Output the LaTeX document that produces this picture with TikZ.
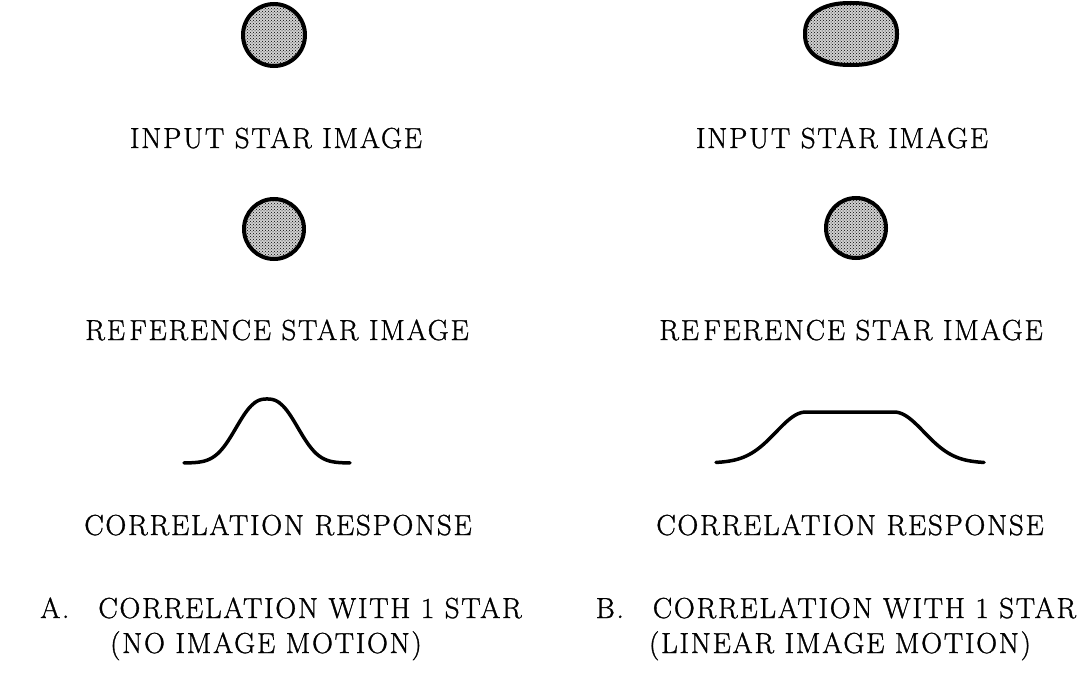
\documentclass[tikz,border=0pt]{standalone}
\usepackage{fontspec}
\setmainfont{Latin Modern Roman}[LetterSpace=6,FakeBold=1.1]
\usetikzlibrary{shapes.geometric,patterns}
\begin{document}
\begin{tikzpicture}[x=1pt,y=-1pt,
  lbl/.style={anchor=base,inner sep=0pt,font=\fontsize{29}{33}\selectfont},
  starimg/.style={draw,line width=4pt,preaction={fill=black!18},pattern=crosshatch dots,pattern color=black,inner sep=0pt},
  curve/.style={line width=3.5pt,line cap=round}]
\useasboundingbox (0,0) rectangle (1091,682);
% column A
\node[starimg,circle,minimum size=62pt] (sA) at (274,35) {};
\node[lbl] (inA) at (276,148) {INPUT STAR IMAGE};
\node[starimg,circle,minimum size=60pt] (rA) at (274,229) {};
\node[lbl] (refA) at (277,340) {RE\hspace{0.15em}FERENCE STAR IMAGE};
\draw[curve] plot[domain=184:350,samples=90,smooth] (\x,{463-64*exp(-(((\x-267)^2+0.01)/(38*38))^1.25)});
\node[lbl] (crA) at (278,535) {CORRELATION RESPONSE};
\node[lbl] (tA1) at (281,618) {A.\hspace{1em}CORRELATION WITH 1 STAR};
\node[lbl] (tA2) at (266,653) {(NO IMAGE MOTION)};
% column B
\path[starimg] plot[domain=0:360,samples=121,smooth cycle]
  ({851+46*sign(cos(\x))*(abs(cos(\x))+0.0001)^0.87},{34+31*sign(sin(\x))*(abs(sin(\x))+0.0001)^0.87});
\node[inner sep=0pt,minimum width=92pt,minimum height=62pt] (sB) at (851,34) {};
\node[lbl] (inB) at (842,148) {INPUT STAR IMAGE};
\node[starimg,circle,minimum size=60pt] (rB) at (856,228) {};
\node[lbl] (refB) at (851,340) {RE\hspace{0.15em}FERENCE STAR IMAGE};
\draw[curve] plot[domain=716:806,samples=50,smooth] (\x,{463-51*exp(-((\x-806)^2)/(2*30*30))})
  -- plot[domain=894:984,samples=50,smooth] (\x,{463-51*exp(-((\x-894)^2)/(2*30*30))});
\node[lbl] (crB) at (850,535) {CORRELATION RESPONSE};
\node[lbl] (tB1) at (836,618) {B.\hspace{1em}CORRELATION WITH 1 STAR};
\node[lbl] (tB2) at (840,653) {(LINEAR IMAGE MOTION)};
\end{tikzpicture}
\end{document}
